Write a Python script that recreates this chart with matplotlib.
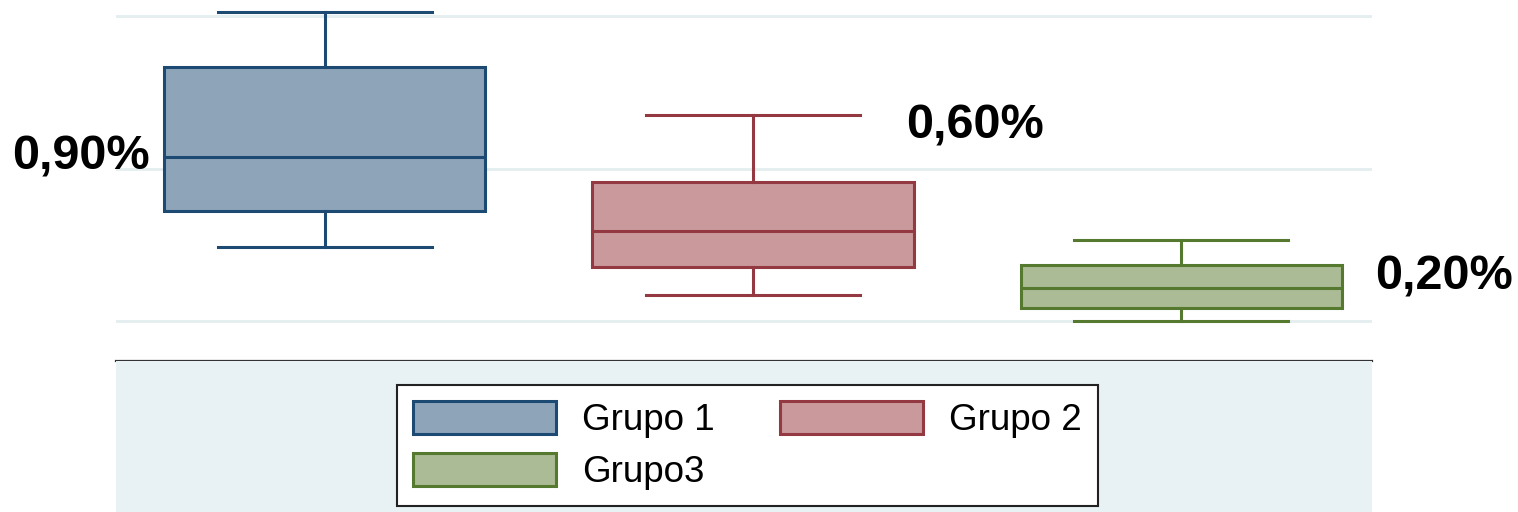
import matplotlib
matplotlib.use("Agg")
import matplotlib.pyplot as plt
from matplotlib.patches import Rectangle, Patch

plt.rcParams['font.family'] = ['Liberation Sans', 'DejaVu Sans']

groups = ["Grupo 1", "Grupo 2", "Grupo3"]
whislo = [0.485, 0.170, 0.000]
q1 = [0.721, 0.354, 0.085]
med = [1.075, 0.590, 0.216]
q3 = [1.666, 0.911, 0.367]
whishi = [2.026, 1.351, 0.531]
labels = ["0,90%", "0,60%", "0,20%"]

edge_colors = ["#1d4a73", "#943842", "#55792f"]
fill_colors = ["#8ea5b9", "#c9999c", "#abbb95"]

W, H = 1518, 512
fig = plt.figure(figsize=(W / 100, H / 100), dpi=100)
fig.patch.set_facecolor("white")

# light background band under the plot
fig.patches.append(Rectangle((116 / W, 0), 1256 / W, 151 / H, transform=fig.transFigure,
                             facecolor="#e8f1f3", edgecolor="none", zorder=0))

ax = fig.add_axes([116 / W, 151 / H, 1256 / W, 361 / H])
ax.set_facecolor("white")

stats = []
for i in range(3):
    stats.append(dict(whislo=whislo[i], q1=q1[i], med=med[i], q3=q3[i], whishi=whishi[i],
                      label=groups[i], fliers=[]))

positions = [1, 2, 3]
for i in range(3):
    ax.bxp([stats[i]], positions=[positions[i]], widths=0.75, capwidths=0.5,
           patch_artist=True, showfliers=False,
           boxprops=dict(facecolor=fill_colors[i], edgecolor=edge_colors[i], linewidth=2.2),
           medianprops=dict(color=edge_colors[i], linewidth=2.2),
           whiskerprops=dict(color=edge_colors[i], linewidth=2.2),
           capprops=dict(color=edge_colors[i], linewidth=2.2))

ax.set_xlim(0.512, 3.446)
ax.set_ylim(-0.262, 2.105)
ax.set_yticks([0, 1, 2])
ax.yaxis.grid(True, color="#e4eeef", linewidth=2)
ax.set_axisbelow(True)
ax.set_xticks([])
ax.tick_params(left=False, labelleft=False)
for s in ["top", "left", "right"]:
    ax.spines[s].set_visible(False)
ax.spines["bottom"].set_color("#333333")
ax.spines["bottom"].set_linewidth(1.6)

# annotations
fig.text(150 / W, 1 - 157 / H, labels[0], ha="right", va="center", fontsize=35, fontweight="bold")
fig.text(906 / W, 1 - 126 / H, labels[1], ha="left", va="center", fontsize=35, fontweight="bold")
fig.text(1375 / W, 1 - 277 / H, labels[2], ha="left", va="center", fontsize=35, fontweight="bold")

handles = [Patch(facecolor=fill_colors[i], edgecolor=edge_colors[i], linewidth=2.2) for i in range(3)]
# row-major order: Grupo 1, Grupo 2 on first row, Grupo3 on second
order = [0, 2, 1]
leg = fig.legend([handles[i] for i in order], [groups[i] for i in order], ncol=2, loc="upper left",
                 bbox_to_anchor=(397 / W, 1 - 385 / H), fontsize=26.5,
                 handlelength=3.9, handleheight=1.0, handletextpad=0.7,
                 columnspacing=1.77, labelspacing=0.42, borderpad=0.43,
                 fancybox=False, frameon=True, borderaxespad=0)
leg.get_frame().set_edgecolor("#222222")
leg.get_frame().set_linewidth(1.5)
leg.get_frame().set_facecolor("white")
leg.get_frame().set_alpha(1)

fig.savefig("out.png", dpi=100, facecolor="white")
